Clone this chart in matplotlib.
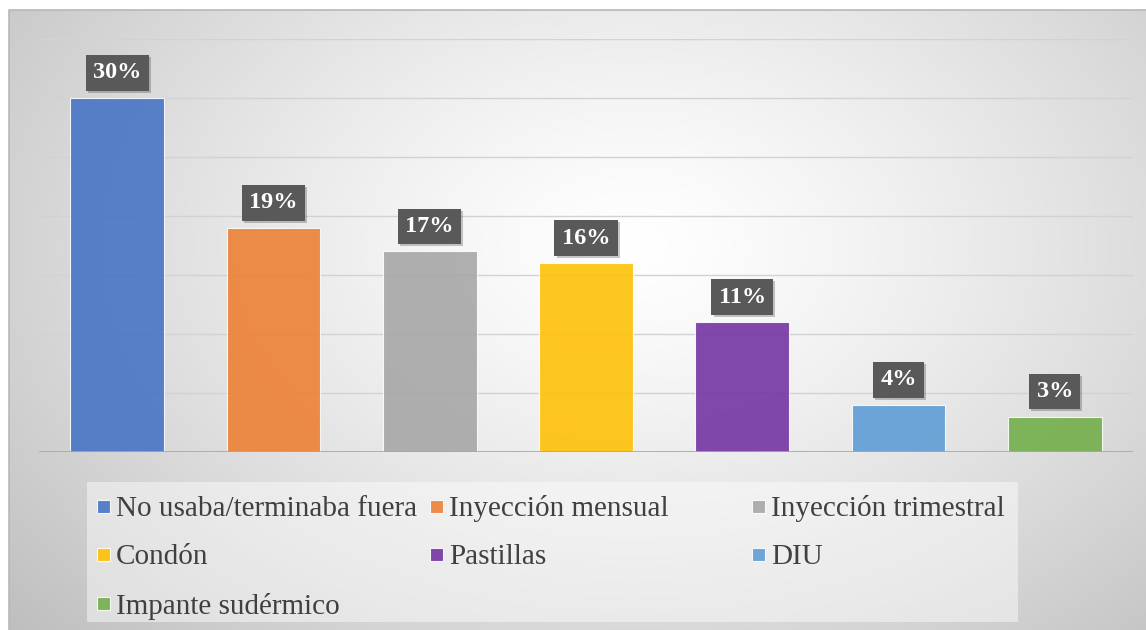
import numpy as np
import matplotlib
matplotlib.use("Agg")
import matplotlib.pyplot as plt
import matplotlib.patheffects as pe
from matplotlib.patches import Rectangle

categories = ["No usaba/terminaba fuera", "Inyección mensual", "Inyección trimestral",
              "Condón", "Pastillas", "DIU", "Impante sudérmico"]
values = [30, 19, 17, 16, 11, 4, 3]
labels = ["30%", "19%", "17%", "16%", "11%", "4%", "3%"]
colors = ["#4472C4", "#ED7D31", "#A5A5A5", "#FFC000", "#7030A0", "#5B9BD5", "#70AD47"]

W, H, DPI = 1146, 630, 100
fig = plt.figure(figsize=(W / DPI, H / DPI), dpi=DPI)
fig.patch.set_facecolor("white")

# background radial gradient in frame
x0 = 9 / W
bg = fig.add_axes([x0, 0.0, 1 - x0, 1 - 10 / H], zorder=0)
nx, ny = 400, 220
xx, yy = np.meshgrid(np.linspace(0, 1, nx), np.linspace(0, 1, ny))
cx, cy = 0.55, 0.62
d = np.sqrt(((xx - cx) / 0.75) ** 2 + ((yy - cy) / 0.95) ** 2)
d = np.clip(d, 0, 1)
val = 1.0 - 0.26 * d ** 1.3
img = np.dstack([val, val, val])
bg.imshow(img, extent=[0, 1, 0, 1], origin="lower", aspect="auto")
bg.set_xlim(0, 1); bg.set_ylim(0, 1)
bg.axis("off")
bg.plot([0, 0, 1], [0, 1, 1], color="#b8b8b8", lw=1.2, transform=bg.transAxes, clip_on=False)

ax = fig.add_axes([39 / W, (630 - 452) / H, (1133 - 39) / W, (452 - 39) / H], zorder=2)
ax.patch.set_alpha(0)
x = np.arange(len(values))
ax.bar(x, values, width=0.6, color=colors, alpha=0.88, edgecolor="white", linewidth=0.8, zorder=3)
ax.set_xlim(-0.5, len(values) - 0.5)
ax.set_ylim(0, 35)
ax.set_yticks(np.arange(0, 36, 5))
ax.grid(axis="y", color="#d2d2d2", lw=1.0, zorder=0)
ax.axhline(0, color="#a6a6a6", lw=1.2, zorder=4)
ax.tick_params(left=False, bottom=False, labelleft=False, labelbottom=False)
for s in ax.spines.values():
    s.set_visible(False)

for xi, v, lab in zip(x, values, labels):
    t = ax.annotate(lab, (xi, v), xytext=(0, 18), textcoords="offset points",
                    ha="center", va="center", fontsize=17.5, fontweight="bold",
                    family="Liberation Serif", color="white", zorder=6,
                    bbox=dict(boxstyle="square,pad=0.3", fc="#595959", ec="none"))
    t.get_bbox_patch().set_path_effects([pe.SimplePatchShadow(offset=(1.5, -1.5), alpha=0.22, shadow_rgbFace="black"), pe.Normal()])

# legend box (pixel coordinates)
lax = fig.add_axes([0, 0, 1, 1], zorder=1)
lax.set_xlim(0, W); lax.set_ylim(H, 0)
lax.axis("off")
lax.add_patch(Rectangle((87, 482), 1018 - 87, 622 - 482, fc="white", alpha=0.45, ec="none"))
col_x = [97, 430, 752]
row_y = [506, 554, 603]
for i, (cat, c) in enumerate(zip(categories, colors)):
    r, k = divmod(i, 3)
    px, py = col_x[k], row_y[r]
    lax.add_patch(Rectangle((px, py - 6.5), 13, 13, fc=c, alpha=0.88, ec="white", lw=0.8))
    lax.text(px + 19, py, cat, ha="left", va="center_baseline", fontsize=21,
             family="Liberation Serif", color="#404040")

fig.savefig("out.png", dpi=DPI)
